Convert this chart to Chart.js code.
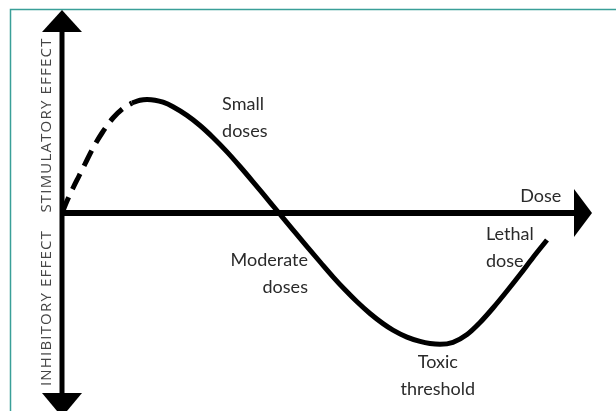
<!DOCTYPE html>
<html>
<head>
<meta charset="utf-8">
<script src="https://cdn.jsdelivr.net/npm/chart.js@4/dist/chart.umd.min.js"></script>
<style>
  html, body { margin: 0; padding: 0; background: #fff; }
  #wrap { position: relative; width: 616px; height: 411px; }
</style>
</head>
<body>
<div id="wrap"><canvas id="hormesisChart"></canvas></div>
<script>
// Dữ liệu đường cong (dose 0..100, effect: dương = kích thích, âm = ức chế)
const doseDashed = [0, 0.94, 2.08, 3.21, 4.34, 5.85, 7.55, 9.62, 11.89, 13.21];
const effectDashed = [0, 6, 12.5, 18.5, 24.5, 32.5, 40, 47.5, 53, 55];

const doseSolid = [13.21, 14.72, 16.04, 17.55, 19.06, 20.94, 23.58, 26.04, 28.49, 31.13, 33.58,
	36.04, 38.49, 40.94, 43.58, 46.23, 48.87, 51.13, 53.40, 55.66, 58.11, 60.57, 62.45, 65.09,
	67.55, 69.43, 71.32, 73.77, 76.42, 78.87, 81.32, 83.96, 86.42, 88.87, 91.51];
const effectSolid = [55, 56.35, 56.7, 56.4, 55.4, 53.15, 48.8, 43.75, 37.75, 30.55, 23.25,
	15.6, 7.8, 0, -8.4, -16.8, -25, -31.9, -38.4, -44.4, -50.25, -55.3, -58.55, -62.05,
	-64.2, -65.25, -65.65, -64.65, -60.75, -54.75, -47.5, -39, -30.75, -22.25, -13.5];

// Nhãn chú thích
const axisLabelX = "Dose";
const axisLabelUp = "STIMULATORY EFFECT";
const axisLabelDown = "INHIBITORY EFFECT";
const noteSmall = ["Small", "doses"];
const noteModerate = ["Moderate", "doses"];
const noteToxic = ["Toxic", "threshold"];
const noteLethal = ["Lethal", "dose"];

function toPoints(xs, ys) {
	return xs.map((x, i) => ({ x: x, y: ys[i] }));
}

// Plugin vẽ trục mũi tên, khung và chữ
const diagramPlugin = {
	id: "diagram",
	beforeDatasetsDraw(chart) {
		const ctx = chart.ctx;
		const xs = chart.scales.x;
		const ys = chart.scales.y;
		const area = chart.chartArea;
		const x0 = xs.getPixelForValue(0);
		const y0 = ys.getPixelForValue(0);
		const xEnd = xs.getPixelForValue(100);

		ctx.save();
		// khung màu xanh
		ctx.strokeStyle = "#3a9f98";
		ctx.lineWidth = 1.5;
		ctx.beginPath();
		ctx.moveTo(10.5, chart.height);
		ctx.lineTo(10.5, 9.5);
		ctx.lineTo(chart.width, 9.5);
		ctx.stroke();

		ctx.fillStyle = "#000";
		ctx.strokeStyle = "#000";
		// trục đứng
		ctx.lineWidth = 5;
		ctx.beginPath();
		ctx.moveTo(x0, area.top + 20);
		ctx.lineTo(x0, area.bottom - 16);
		ctx.stroke();
		// trục ngang
		ctx.lineWidth = 6;
		ctx.beginPath();
		ctx.moveTo(x0, y0);
		ctx.lineTo(xEnd - 16, y0);
		ctx.stroke();

		// mũi tên
		ctx.beginPath();
		ctx.moveTo(x0, area.top);
		ctx.lineTo(x0 + 20, area.top + 22);
		ctx.lineTo(x0 - 20, area.top + 22);
		ctx.closePath();
		ctx.fill();
		ctx.beginPath();
		ctx.moveTo(x0, area.bottom + 6);
		ctx.lineTo(x0 + 20, area.bottom - 18);
		ctx.lineTo(x0 - 20, area.bottom - 18);
		ctx.closePath();
		ctx.fill();
		ctx.beginPath();
		ctx.moveTo(xEnd, y0);
		ctx.lineTo(xEnd - 18, y0 - 24);
		ctx.lineTo(xEnd - 18, y0 + 24);
		ctx.closePath();
		ctx.fill();
		ctx.restore();
	},
	afterDatasetsDraw(chart) {
		const ctx = chart.ctx;
		const xs = chart.scales.x;
		const ys = chart.scales.y;
		const x0 = xs.getPixelForValue(0);
		const y0 = ys.getPixelForValue(0);

		ctx.save();
		ctx.fillStyle = "#2a2a2a";
		ctx.font = "18px Lato, 'Open Sans', sans-serif";
		ctx.textBaseline = "alphabetic";

		const drawNote = (lines, dose, effect, align) => {
			ctx.textAlign = align;
			const px = xs.getPixelForValue(dose);
			const py = ys.getPixelForValue(effect);
			lines.forEach((t, i) => ctx.fillText(t, px, py + i * 27));
		};
		drawNote(noteSmall, 30.2, 51.5, "left");
		drawNote(noteModerate, 46.4, -26.5, "right");
		drawNote(noteToxic, 70.9, -77.5, "center");
		drawNote(noteLethal, 80.0, -13.5, "left");
		drawNote([axisLabelX], 94.2, 5.5, "right");

		// chữ dọc với giãn ký tự cho vừa chiều dài
		ctx.fillStyle = "#444";
		ctx.font = "15px 'Open Sans', sans-serif";
		ctx.textAlign = "center";
		ctx.textBaseline = "middle";
		const drawVertical = (text, cy, len) => {
			ctx.letterSpacing = "0px";
			const w = ctx.measureText(text).width;
			ctx.letterSpacing = ((len - w) / (text.length - 1)).toFixed(2) + "px";
			ctx.save();
			ctx.translate(x0 - 15, cy);
			ctx.rotate(-Math.PI / 2);
			ctx.fillText(text, 0, 0);
			ctx.restore();
		};
		drawVertical(axisLabelUp, y0 - 88, 174);
		drawVertical(axisLabelDown, y0 + 95, 155);
		ctx.restore();
	},
};

const chartEl = document.getElementById("hormesisChart");
new Chart(chartEl.getContext("2d"), {
	type: "line",
	data: {
		datasets: [
			{
				label: "Low dose",
				data: toPoints(doseDashed, effectDashed),
				borderColor: "#000",
				borderWidth: 5,
				borderDash: [17, 9],
				cubicInterpolationMode: "monotone",
				pointRadius: 0,
				fill: false,
			},
			{
				label: "Dose response",
				data: toPoints(doseSolid, effectSolid),
				borderColor: "#000",
				borderWidth: 5,
				cubicInterpolationMode: "monotone",
				pointRadius: 0,
				fill: false,
			},
		],
	},
	options: {
		responsive: true,
		maintainAspectRatio: false,
		animation: false,
		layout: { padding: { left: 62, right: 24, top: 10, bottom: 0 } },
		scales: {
			x: { type: "linear", min: 0, max: 100, display: false },
			y: { type: "linear", min: -99, max: 101.5, display: false },
		},
		plugins: {
			legend: { display: false },
			tooltip: { enabled: false },
		},
	},
	plugins: [diagramPlugin],
});
</script>
</body>
</html>
